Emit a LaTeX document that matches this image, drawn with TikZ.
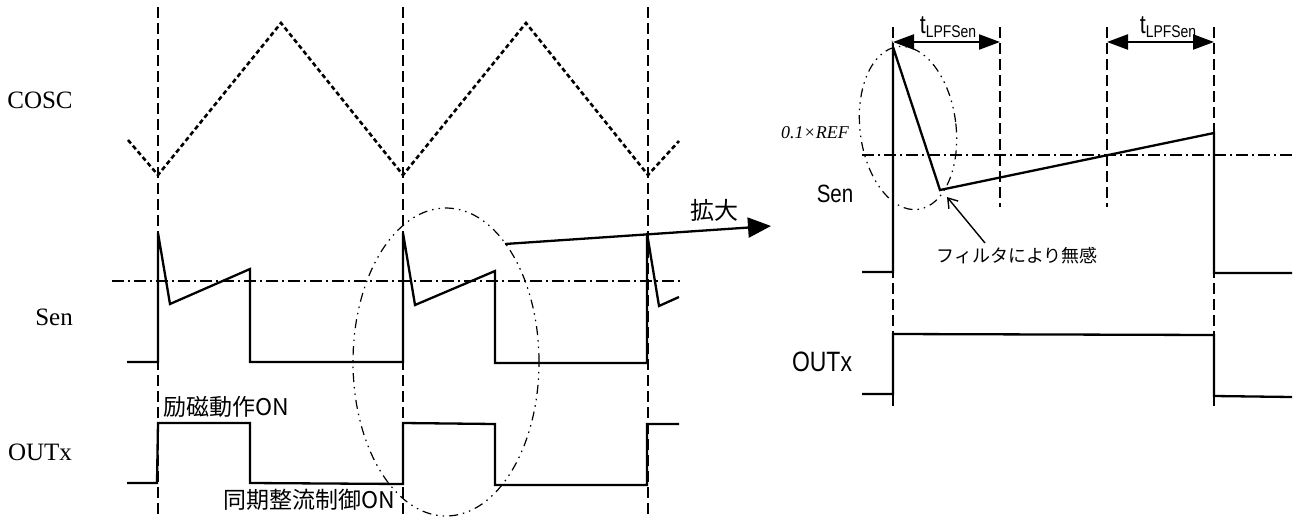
\documentclass[tikz,border=0pt]{standalone}
\usepackage{fontspec}
\setmainfont{Liberation Serif}
\newfontfamily\cjk{Noto Sans CJK JP}
\newfontfamily\nsans[FakeStretch=0.82]{Liberation Sans}
\usetikzlibrary{arrows.meta}
\tikzset{
  wave/.style={line width=2.3pt, line join=miter},
  vguide/.style={line width=1.4pt, dash pattern=on 11pt off 5pt},
  tri/.style={line width=2.6pt, dash pattern=on 4.5pt off 3pt},
  thr/.style={line width=1.2pt, dash pattern=on 12pt off 4pt on 2pt off 4pt},
  ddot/.style={line width=1.2pt, dash pattern=on 9pt off 5pt on 1.5pt off 5pt on 1.5pt off 5pt},
  serlab/.style={font=\fontsize{25}{25}\selectfont, inner sep=0pt},
  jlab/.style={font=\cjk\fontsize{23}{23}\selectfont, inner sep=0pt},
  slab/.style={font=\nsans\fontsize{25}{25}\selectfont, inner sep=0pt},
  tarrow/.style={line width=2.3pt, {Triangle[length=21pt,width=15pt]}-{Triangle[length=21pt,width=15pt]}},
}
\begin{document}
\begin{tikzpicture}[x=1pt,y=-1pt]
\useasboundingbox (0,0) rectangle (1296,517);
% ---------- left part ----------
\foreach \xx in {158,403,648} \draw[vguide] (\xx,7) -- (\xx,517);
\draw[tri] (128,140) -- (158,175) -- (281,23) -- (403,175) -- (526,23) -- (648,175) -- (679,141);
\draw[thr] (112,281) -- (680,281);
\draw[wave] (127,362) -- (158,362) -- (158,233) -- (170,304) -- (250,269) -- (250,362) -- (403,362)
  -- (403,233) -- (415,305) -- (495,271) -- (495,363) -- (647,363) -- (647,233) -- (659,306) -- (679,297);
\draw[wave] (127,483) -- (157,483) -- (158,423) -- (250,423) -- (250,483) -- (403,484) -- (403,423)
  -- (495,424) -- (495,485) -- (647,485) -- (647,424) -- (679,424);
\node[serlab] (cosc) at (40,100) {COSC};
\node[serlab] (senl) at (54,317) {Sen};
\node[serlab] (outl) at (40,452) {OUTx};
\node[jlab] (reiji) at (226,407) {励磁動作ON};
\node[jlab] (douki) at (309,500) {同期整流制御ON};
\draw[ddot] (446,362) ellipse [x radius=93pt, y radius=154pt];
% magnify arrow
\coordinate (zs) at (505,244);
\coordinate (ze) at (771,226);
\draw[line width=2.3pt, -{Triangle[length=23pt,width=20pt]}] (zs) -- (ze);
\node[font=\cjk\fontsize{24}{24}\selectfont, inner sep=0pt] (kakudai) at (714,210) {拡大};
% ---------- right part ----------
\foreach \xx in {893,1214} \draw[vguide] (\xx,27) -- (\xx,410);
\foreach \xx in {1000,1107} \draw[vguide] (\xx,27) -- (\xx,207);
\draw[thr] (862,155) -- (1292,155);
\draw[wave] (862,272) -- (893,272) -- (893,47) -- (940,190) -- (1214,133) -- (1214,273) -- (1292,273);
\draw[wave] (862,394) -- (893,394) -- (893,334) -- (1214,335) -- (1214,396) -- (1292,397);
\draw[ddot, rotate around={7:(908,128)}] (908,128) ellipse [x radius=48pt, y radius=82pt];
\coordinate (a1l) at (893,42); \coordinate (a1r) at (1000,42);
\coordinate (a2l) at (1107,42); \coordinate (a2r) at (1214,42);
\draw[tarrow] (a1l) -- (a1r);
\draw[tarrow] (a2l) -- (a2r);
\node[inner sep=0pt, font=\nsans\fontsize{26}{26}\selectfont] (tl1) at (948,27) {t\raisebox{-4pt}{\fontsize{17}{17}\selectfont LPFSen}};
\node[inner sep=0pt, font=\nsans\fontsize{26}{26}\selectfont] (tl2) at (1168,27) {t\raisebox{-4pt}{\fontsize{17}{17}\selectfont LPFSen}};
\node[inner sep=0pt, font=\itshape\fontsize{18}{18}\selectfont] (ref) at (815,133) {0.1×REF};
\node[slab] (senr) at (835,194) {Sen};
\node[slab, font=\nsans\fontsize{28}{28}\selectfont] (outr) at (822,362) {OUTx};
\node[inner sep=0pt, font=\cjk\fontsize{18}{18}\selectfont] (filt) at (1017,256) {フィルタにより無感};
\coordinate (fs) at (985,243);
\coordinate (fe) at (947,197);
\draw[line width=1.4pt, -{Straight Barb[length=9pt,width=12pt]}] (fs) -- (fe);
\end{tikzpicture}
\end{document}
